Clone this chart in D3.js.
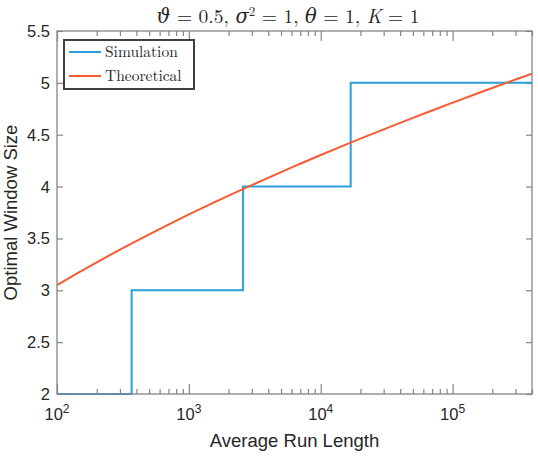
<!DOCTYPE html>
<html>
<head>
<meta charset="utf-8">
<script src="https://cdn.jsdelivr.net/npm/d3@7"></script>
<style>
  body { margin: 0; background: #fff; }
  svg { display: block; }
</style>
</head>
<body>
<div id="chart"></div>
<script>
// Simulated optimal window size: step changes at these run lengths
const simARL = [100, 368, 368, 2577, 2577, 16870, 16870, 400000];
const simWindow = [2, 2, 3, 3, 4, 4, 5, 5];

// Theoretical optimal window size, sampled along the run-length axis
const theoARL = [100, 150, 200, 300, 500, 700, 1000, 1500, 2000, 3000, 5000, 7000,
                 10000, 15000, 20000, 30000, 50000, 70000, 100000, 150000, 200000, 300000, 400000];
const theoWindow = [3.050, 3.181, 3.270, 3.392, 3.540, 3.634, 3.731, 3.838, 3.912, 4.014, 4.140, 4.220,
                    4.304, 4.397, 4.462, 4.552, 4.663, 4.734, 4.809, 4.893, 4.951, 5.032, 5.089];

const xTicks = [100, 1000, 10000, 100000];
const xTickExp = ["2", "3", "4", "5"];
const yTicks = [2, 2.5, 3, 3.5, 4, 4.5, 5, 5.5];

const seriesNames = ["Simulation", "Theoretical"];
const seriesColors = ["#2a9fd8", "#f85a32"];

const W = 538, H = 462;
const m = { left: 57, right: 6, top: 31, bottom: 68 };
const pw = W - m.left - m.right, ph = H - m.top - m.bottom;

const svg = d3.select("#chart").append("svg").attr("width", W).attr("height", H);

const x = d3.scaleLog().domain([100, 400000]).range([m.left, m.left + pw]);
const y = d3.scaleLinear().domain([2, 5.5]).range([m.top + ph, m.top]);

const axisColor = "#858585";
const textColor = "#262626";
const sans = "Helvetica, Arial, 'Liberation Sans', sans-serif";
const serif = "'Latin Modern Roman', 'CMU Serif', 'DejaVu Serif', serif";

// Minor log ticks (2..9 in each decade)
const minor = [];
for (let e = 2; e <= 5; e++) {
  for (let k = 2; k <= 9; k++) {
    const v = k * Math.pow(10, e);
    if (v <= 400000) minor.push(v);
  }
}

const g = svg.append("g");

// Axes drawn with d3 axis generators; ticks point inward
const bottomAxis = d3.axisBottom(x).tickValues(xTicks).tickFormat("").tickSizeInner(-10).tickSizeOuter(0);
const bottomMinor = d3.axisBottom(x).tickValues(minor).tickFormat("").tickSizeInner(-5).tickSizeOuter(0);
const topAxis = d3.axisTop(x).tickValues(xTicks).tickFormat("").tickSizeInner(-10).tickSizeOuter(0);
const topMinor = d3.axisTop(x).tickValues(minor).tickFormat("").tickSizeInner(-5).tickSizeOuter(0);
const leftAxis = d3.axisLeft(y).tickValues(yTicks).tickFormat("").tickSizeInner(-6).tickSizeOuter(0);
const rightAxis = d3.axisRight(y).tickValues(yTicks).tickFormat("").tickSizeInner(-6).tickSizeOuter(0);

function styleAxis(sel) {
  sel.select(".domain").remove();
  sel.selectAll(".tick line").attr("stroke", axisColor).attr("stroke-width", 1.2);
}

g.append("g").attr("transform", `translate(0,${m.top + ph})`).call(bottomAxis).call(styleAxis);
g.append("g").attr("transform", `translate(0,${m.top + ph})`).call(bottomMinor).call(styleAxis);
g.append("g").attr("transform", `translate(0,${m.top})`).call(topAxis).call(styleAxis);
g.append("g").attr("transform", `translate(0,${m.top})`).call(topMinor).call(styleAxis);
g.append("g").attr("transform", `translate(${m.left},0)`).call(leftAxis).call(styleAxis);
g.append("g").attr("transform", `translate(${m.left + pw},0)`).call(rightAxis).call(styleAxis);

// Y tick labels
g.selectAll(".ylab").data(yTicks).enter().append("text")
  .attr("x", m.left - 7)
  .attr("y", d => y(d))
  .attr("dy", "0.36em")
  .attr("text-anchor", "end")
  .attr("font-family", sans)
  .attr("font-size", 16.5)
  .attr("fill", textColor)
  .text(d => d);

// X tick labels: 10 with superscript exponent
const xl = g.selectAll(".xlab").data(xTicks).enter().append("text")
  .attr("x", d => x(d))
  .attr("y", m.top + ph + 26)
  .attr("text-anchor", "middle")
  .attr("font-family", sans)
  .attr("font-size", 16.5)
  .attr("fill", textColor);
xl.append("tspan").text("10");
xl.append("tspan").attr("dy", -7).attr("font-size", 12).text((d, i) => xTickExp[i]);

// Lines
const line = d3.line().x(d => x(d[0])).y(d => y(d[1]));
svg.append("clipPath").attr("id", "plotclip").append("rect")
  .attr("x", m.left).attr("y", m.top - 2).attr("width", pw).attr("height", ph + 4);

const plot = svg.append("g").attr("clip-path", "url(#plotclip)");
plot.append("path")
  .datum(simARL.map((v, i) => [v, simWindow[i]]))
  .attr("d", line)
  .attr("fill", "none")
  .attr("stroke", seriesColors[0])
  .attr("stroke-width", 2);
plot.append("path")
  .datum(theoARL.map((v, i) => [v, theoWindow[i]]))
  .attr("d", line.curve(d3.curveMonotoneX))
  .attr("fill", "none")
  .attr("stroke", seriesColors[1])
  .attr("stroke-width", 2);

// Frame lines
svg.append("rect")
  .attr("x", m.left).attr("y", m.top).attr("width", pw).attr("height", ph)
  .attr("fill", "none").attr("stroke", axisColor).attr("stroke-width", 1.3);

// Legend
const lg = svg.append("g");
lg.append("rect")
  .attr("x", 64).attr("y", 40).attr("width", 130).attr("height", 49)
  .attr("fill", "#fff").attr("stroke", "#404040").attr("stroke-width", 2);
seriesNames.forEach((name, i) => {
  const yy = 52 + i * 24;
  lg.append("line")
    .attr("x1", 69).attr("x2", 101).attr("y1", yy).attr("y2", yy)
    .attr("stroke", seriesColors[i]).attr("stroke-width", 2);
  lg.append("text")
    .attr("x", 105).attr("y", yy).attr("dy", "0.35em")
    .attr("font-family", serif).attr("font-size", 15.5)
    .attr("fill", textColor).text(name);
});

// Title
const title = svg.append("text")
  .attr("x", 288).attr("y", 23)
  .attr("text-anchor", "middle")
  .attr("font-family", serif).attr("font-size", 19.5)
  .attr("fill", textColor);
title.append("tspan").attr("font-style", "italic").text("ϑ");
title.append("tspan").text(" = 0.5, ");
title.append("tspan").attr("font-style", "italic").text("σ");
title.append("tspan").attr("dy", -7).attr("font-size", 13).text("2");
title.append("tspan").attr("dy", 7).text(" = 1, ");
title.append("tspan").attr("font-style", "italic").text("θ");
title.append("tspan").text(" = 1, ");
title.append("tspan").attr("font-style", "italic").text("K");
title.append("tspan").text(" = 1");

// Axis titles
svg.append("text")
  .attr("x", m.left + pw / 2).attr("y", 447)
  .attr("text-anchor", "middle")
  .attr("font-family", sans).attr("font-size", 18.5)
  .attr("fill", textColor).text("Average Run Length");
svg.append("text")
  .attr("transform", `translate(17,${m.top + ph / 2}) rotate(-90)`)
  .attr("text-anchor", "middle")
  .attr("font-family", sans).attr("font-size", 18.5)
  .attr("fill", textColor).text("Optimal Window Size");
</script>
</body>
</html>
